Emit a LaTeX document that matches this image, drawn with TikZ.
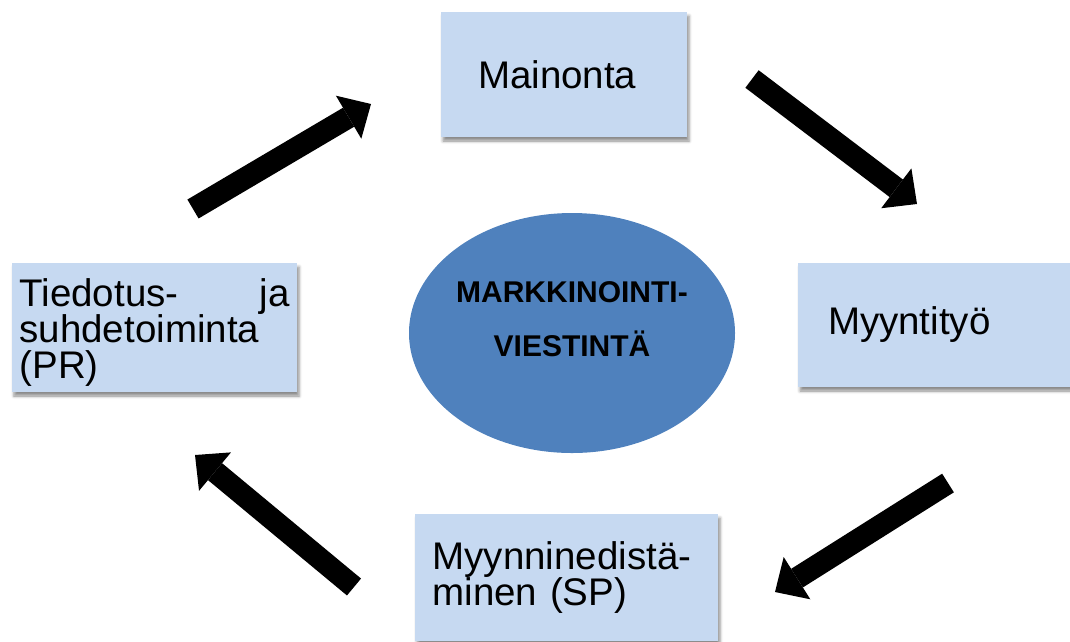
\documentclass[tikz,border=0pt]{standalone}
\usepackage{fontspec}
\setmainfont{Liberation Sans}
\usetikzlibrary{arrows.meta,shapes.geometric,shadows.blur}
\definecolor{boxblue}{HTML}{C6D9F1}
\definecolor{hubblue}{HTML}{4F81BD}
\begin{document}
\begin{tikzpicture}[
    x=1pt, y=-1pt,
    block/.style={rectangle, fill=boxblue, inner ysep=0pt, align=left,
      font=\fontsize{38.5pt}{36pt}\selectfont,
      blur shadow={shadow xshift=2pt, shadow yshift=-4pt, shadow blur radius=3pt, shadow opacity=45}},
    hub/.style={ellipse, fill=hubblue, inner sep=0pt, minimum width=326pt, minimum height=240pt},
    hubtext/.style={align=center, font=\fontsize{30pt}{54pt}\selectfont\bfseries},
    bigarrow/.style={line width=22pt, -{Triangle[length=26pt, width=50pt, line width=0pt]}}
  ]
  \useasboundingbox (0, 0) rectangle (1070, 641);

  \node (mainonta) at (564, 74.5)  [block, minimum height=125pt, inner xsep=37pt, text width=172pt] {Mainonta};
  \node (myynti) at (941.5, 325)   [block, minimum height=124pt, inner xsep=30pt, text width=227pt] {Myyntityö};
  \node (sp) at (566.5, 577.5)     [block, minimum height=127pt, inner xsep=17.5pt, text width=268pt] {%
    Myynninedistä-\\
    minen (SP)
  };
  \node (pr) at (154.5, 327.5)     [block, minimum height=129pt, inner xsep=7.5pt, text width=270pt] {%
    \rule{0pt}{38pt}Tiedotus-\hfill ja\\
    suhdetoiminta\\
    (PR)
  };

  \node (hub) at (572, 333) [hub] {};
  \node (hublabel) at (572, 319) [hubtext] {MARKKINOINTI-\\VIESTINTÄ};

  \coordinate (pr-out) at (193, 209);
  \coordinate (mainonta-in) at (371, 104);
  \coordinate (mainonta-out) at (752, 79);
  \coordinate (myynti-in) at (917, 204);
  \coordinate (myynti-out) at (948, 483);
  \coordinate (sp-in) at (775, 592);
  \coordinate (sp-out) at (354, 587);
  \coordinate (pr-in) at (195, 455);

  \draw [bigarrow] (pr-out) -- (mainonta-in);
  \draw [bigarrow] (mainonta-out) -- (myynti-in);
  \draw [bigarrow] (myynti-out) -- (sp-in);
  \draw [bigarrow] (sp-out) -- (pr-in);
\end{tikzpicture}
\end{document}
